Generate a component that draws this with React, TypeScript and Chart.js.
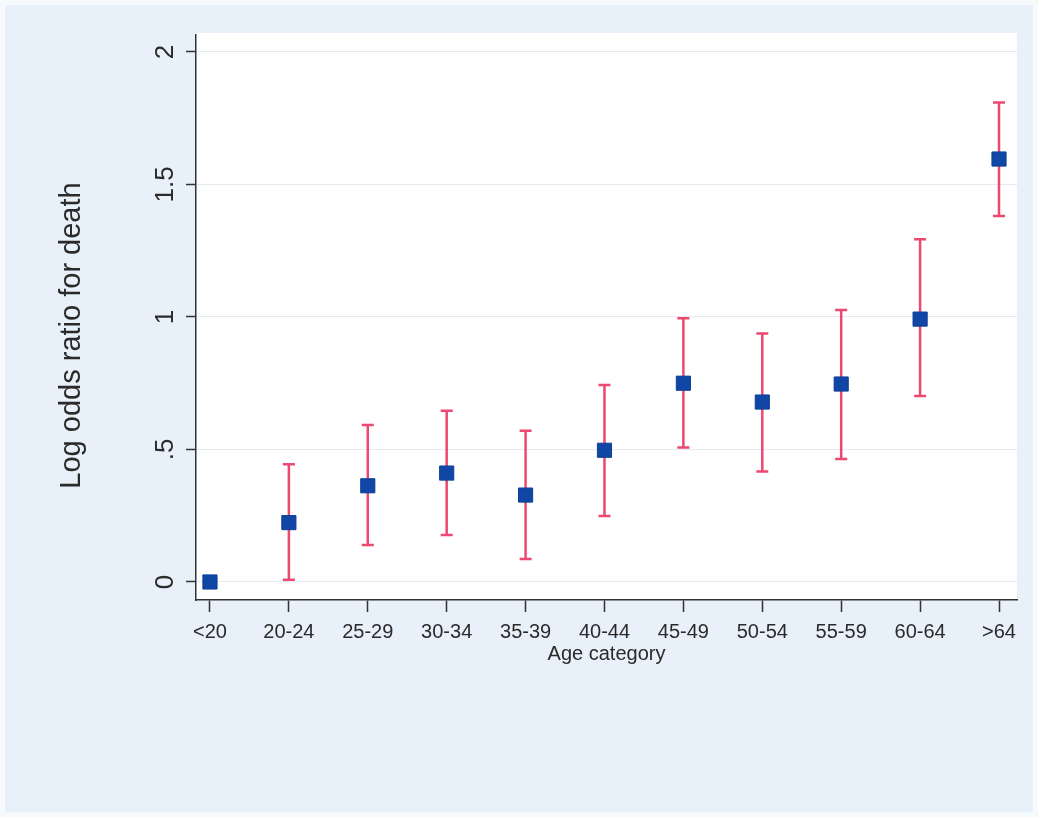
import React, { useEffect, useRef } from "react";
import { Chart, registerables } from "chart.js";

Chart.register(...registerables);

const ageCategories = ["<20", "20-24", "25-29", "30-34", "35-39", "40-44", "45-49", "50-54", "55-59", "60-64", ">64"];
const logOdds = [0, 0.224, 0.363, 0.411, 0.328, 0.497, 0.75, 0.679, 0.747, 0.992, 1.596];
const ciLower = [null, 0.008, 0.14, 0.177, 0.087, 0.249, 0.507, 0.417, 0.464, 0.702, 1.381];
const ciUpper = [null, 0.444, 0.592, 0.646, 0.571, 0.743, 0.995, 0.938, 1.026, 1.293, 1.809];
const yTickValues = [0, 0.5, 1, 1.5, 2];
const yTickLabels = ["0", ".5", "1", "1.5", "2"];
const yTitle = "Log odds ratio for death";
const xTitle = "Age category";

const FONT = "'Liberation Sans', Arial, Helvetica, sans-serif";
const TEXT = "#2a2a2a";
const AXIS = "#333333";

const backdropPlugin = {
  id: "backdrop",
  beforeDraw(chart: any) {
    const { ctx, width, height, chartArea } = chart;
    ctx.save();
    ctx.fillStyle = "#f7fafd";
    ctx.fillRect(0, 0, width, height);
    ctx.fillStyle = "#e8f0f9";
    ctx.fillRect(5, 5, width - 10, height - 10);
    ctx.fillStyle = "#ffffff";
    ctx.fillRect(chartArea.left, chartArea.top - 2, chartArea.right - chartArea.left, chartArea.bottom - chartArea.top + 2);
    ctx.restore();
  },
};

const yTitlePlugin = {
  id: "yTitle",
  afterDraw(chart: any) {
    const { ctx, chartArea } = chart;
    ctx.save();
    ctx.translate(72, (chartArea.top + chartArea.bottom) / 2 + 18);
    ctx.rotate(-Math.PI / 2);
    ctx.fillStyle = TEXT;
    ctx.font = `29px ${FONT}`;
    ctx.textAlign = "center";
    ctx.textBaseline = "middle";
    ctx.fillText(yTitle, 0, 0);
    ctx.restore();
  },
};

const errorBarPlugin = {
  id: "errorBars",
  beforeDatasetsDraw(chart: any) {
    const { ctx, scales } = chart;
    const xs = scales.x;
    const ys = scales.y;
    ctx.save();
    ctx.strokeStyle = "#ec4870";
    ctx.lineWidth = 2.5;
    ctx.lineCap = "butt";
    const cap = 6;
    ageCategories.forEach((_, i) => {
      const lo = ciLower[i];
      const hi = ciUpper[i];
      if (lo == null || hi == null) return;
      const x = xs.getPixelForValue(i);
      const yl = ys.getPixelForValue(lo);
      const yh = ys.getPixelForValue(hi);
      ctx.beginPath();
      ctx.moveTo(x, yl);
      ctx.lineTo(x, yh);
      ctx.moveTo(x - cap, yl);
      ctx.lineTo(x + cap, yl);
      ctx.moveTo(x - cap, yh);
      ctx.lineTo(x + cap, yh);
      ctx.stroke();
    });
    ctx.restore();
  },
};

export default function App() {
  const ref = useRef<HTMLCanvasElement | null>(null);

  useEffect(() => {
    if (!ref.current) return;
    const chart = new Chart(ref.current, {
      type: "scatter",
      data: {
        datasets: [
          {
            label: "Log odds ratio",
            data: logOdds.map((v, i) => ({ x: i, y: v })),
            pointStyle: "rect",
            pointRadius: 10,
            pointHoverRadius: 10,
            backgroundColor: "#1047a6",
            borderColor: "#0d3f96",
            borderWidth: 1,
          },
        ],
      },
      options: {
        animation: false,
        responsive: false,
        events: [],
        layout: { padding: { left: 55, top: 35, right: 21, bottom: 149 } },
        plugins: {
          legend: { display: false },
          tooltip: { enabled: false },
        },
        scales: {
          x: {
            type: "linear",
            min: -0.177,
            max: 10.228,
            afterFit(scale: any) {
              scale.height = 68;
            },
            afterBuildTicks(scale: any) {
              scale.ticks = ageCategories.map((_, i) => ({ value: i }));
            },
            grid: {
              drawOnChartArea: false,
              drawTicks: true,
              tickLength: 12,
              tickColor: AXIS,
              tickWidth: 1.5,
            },
            border: { display: true, color: AXIS, width: 1.5 },
            ticks: {
              autoSkip: false,
              maxRotation: 0,
              minRotation: 0,
              padding: 8,
              color: TEXT,
              font: { family: FONT, size: 20 },
              callback: (v: any) => ageCategories[Math.round(Number(v))] ?? "",
            },
            title: {
              display: true,
              text: xTitle,
              color: TEXT,
              font: { family: FONT, size: 20 },
              padding: { top: 0, bottom: 2 },
            },
          },
          y: {
            type: "linear",
            min: -0.068,
            max: 2.064,
            afterFit(scale: any) {
              scale.width = 141;
            },
            afterBuildTicks(scale: any) {
              scale.ticks = yTickValues.map((v) => ({ value: v }));
            },
            grid: {
              drawOnChartArea: true,
              color: "#e3eaf2",
              lineWidth: 1,
              drawTicks: true,
              tickLength: 10,
              tickColor: AXIS,
              tickWidth: 1.5,
            },
            border: { display: true, color: AXIS, width: 1.5 },
            ticks: {
              autoSkip: false,
              minRotation: 90,
              maxRotation: 90,
              crossAlign: "center",
              padding: 2,
              color: TEXT,
              font: { family: FONT, size: 26 },
              callback: (v: any) => {
                const idx = yTickValues.indexOf(Number(v));
                return idx >= 0 ? yTickLabels[idx] : "";
              },
            },
            title: { display: false },
          },
        },
      },
      plugins: [backdropPlugin, errorBarPlugin, yTitlePlugin],
    } as any);
    return () => chart.destroy();
  }, []);

  return (
    <div style={{ position: "absolute", left: 0, top: 0, width: 1038, height: 817 }}>
      <canvas ref={ref} width={1038} height={817} />
    </div>
  );
}
